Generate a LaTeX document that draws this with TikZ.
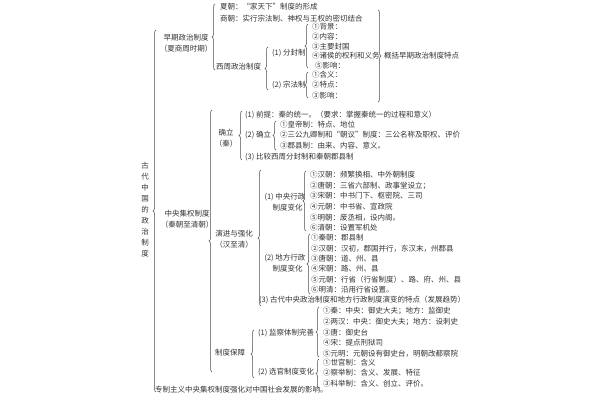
\documentclass[tikz,border=0pt]{standalone}
\usepackage{fontspec}
\newfontfamily\cjk{Noto Sans CJK SC}
\usetikzlibrary{decorations.pathreplacing}
\begin{document}
\begin{tikzpicture}[x=1pt,y=-1pt,
  t/.style={anchor=west,inner sep=0pt,font=\cjk\fontsize{7.5}{9}\selectfont,text=black!80},
  c/.style={align=center,inner sep=0pt,font=\cjk\fontsize{7.5}{11}\selectfont,text=black!80},
  br/.style={decorate,decoration={brace,amplitude=3pt},draw=black!70,line width=0.5pt}]
\useasboundingbox (0,0) rectangle (600,400);
% root
\node[c,font=\cjk\fontsize{7.5}{11}\selectfont] (root) at (145,210) {古\\代\\中\\国\\的\\政\\治\\制\\度};
\draw[br] (156,392) -- (156,30);
% early
\node[c] (early) at (186,43) {早期政治制度\\（夏商周时期）};
\draw[br] (215,70) -- (215,4);
\node[t] (xia) at (220,7) {夏朝：“家天下”制度的形成};
\node[t] (shang) at (220,19) {商朝：实行宗法制、神权与王权的密切结合};
\node[t] (xz) at (216,67) {西周政治制度};
\draw[br] (268,90) -- (268,47);
\node[t] (ff) at (272,53) {(1) 分封制};
\node[t] (zf) at (272,85) {(2) 宗法制};
\draw[br] (308,68) -- (308,24);
\node[t] (f1) at (312,27) {①背景：};
\node[t] (f2) at (312,37) {②内容：};
\node[t] (f3) at (312,47) {③主要封国};
\node[t] (f4) at (312,56) {④诸侯的权利和义务};
\node[t] (f5) at (315,66) {⑤影响：};
\draw[br] (308,98) -- (308,72);
\node[t] (z1) at (312,75) {①含义：};
\node[t] (z2) at (312,85) {②特点：};
\node[t] (z3) at (312,96) {③影响：};
\draw[br] (378,10) -- (378,102);
\node[t] (gk) at (384,56) {概括早期政治制度特点};
% central
\node[c] (zy) at (187,219) {中央集权制度\\（秦朝至清朝）};
\draw[br] (212,372) -- (212,110);
\node[c] (ql) at (226,138) {确立\\（秦）};
\draw[br] (242,160) -- (242,111);
\node[t] (q1) at (245,115) {(1) 前提：秦的统一。（要求：掌握秦统一的过程和意义）};
\node[t] (q2) at (245,135) {(2) 确立};
\draw[br] (276,150) -- (276,121);
\node[t] (q21) at (280,125) {①皇帝制：特点、地位};
\node[t] (q22) at (280,135) {②三公九卿制和“朝议”制度：三公名称及职权、评价};
\node[t] (q23) at (280,146) {③郡县制：由来、内容、意义。};
\node[t] (q3) at (245,157) {(3) 比较西周分封制和秦朝郡县制};
\node[c] (yj) at (234,239) {演进与强化\\（汉至清）};
\draw[br] (261,306) -- (261,170);
\node[c] (zx) at (285,202) {(1)\ 中央行政\\\ \ \ 制度变化};
\draw[br] (306,231) -- (306,171);
\node[t] (a1) at (310,175) {①汉朝：频繁换相、中外朝制度};
\node[t] (a2) at (310,186) {②唐朝：三省六部制、政事堂设立；};
\node[t] (a3) at (310,196) {③宋朝：中书门下、枢密院、三司};
\node[t] (a4) at (310,207) {④元朝：中书省、宣政院};
\node[t] (a5) at (310,218) {⑤明朝：废丞相，设内阁。};
\node[t] (a6) at (310,228) {⑥清朝：设置军机处};
\node[c] (df) at (285,263) {(2)\ 地方行政\\\ \ \ 制度变化};
\draw[br] (310,294) -- (310,234);
\node[t] (b1) at (311,238) {①秦朝：郡县制};
\node[t] (b2) at (311,249) {②汉朝：汉初，郡国并行，东汉末，州郡县};
\node[t] (b3) at (311,259) {③唐朝：道、州、县};
\node[t] (b4) at (311,269) {④宋朝：路、州、县};
\node[t] (b5) at (311,280) {⑤元朝：行省（行省制度）、路、府、州、县};
\node[t] (b6) at (311,290) {⑥明清：沿用行省设置。};
\node[t] (tz) at (259,300) {(3)\ 古代中央政治制度和地方行政制度演变的特点（发展趋势）};
\node[t] (bz) at (215,353) {制度保障};
\draw[br] (254,378) -- (254,330);
\node[t] (jc) at (258,333) {(1)\ 监察体制完善};
\draw[br] (319,357) -- (319,307);
\node[t] (c1) at (323,311) {①秦：中央：御史大夫；地方：监御史};
\node[t] (c2) at (323,322) {②两汉：中央：御史大夫；地方：设刺史};
\node[t] (c3) at (323,333) {③唐：御史台};
\node[t] (c4) at (323,343) {④宋：提点刑狱司};
\node[t] (c5) at (323,354) {⑤元明：元朝设有御史台，明朝改都察院};
\node[t] (xg) at (258,372) {(2)\ 选官制度变化};
\draw[br] (319,388) -- (319,359);
\node[t] (d1) at (323,363) {①世官制：含义};
\node[t] (d2) at (323,373) {②察举制：含义、发展、特征};
\node[t] (d3) at (323,384) {③科举制：含义、创立、评价。};
\node[t] (zz) at (155,390) {专制主义中央集权制度强化对中国社会发展的影响。};
\end{tikzpicture}
\end{document}
